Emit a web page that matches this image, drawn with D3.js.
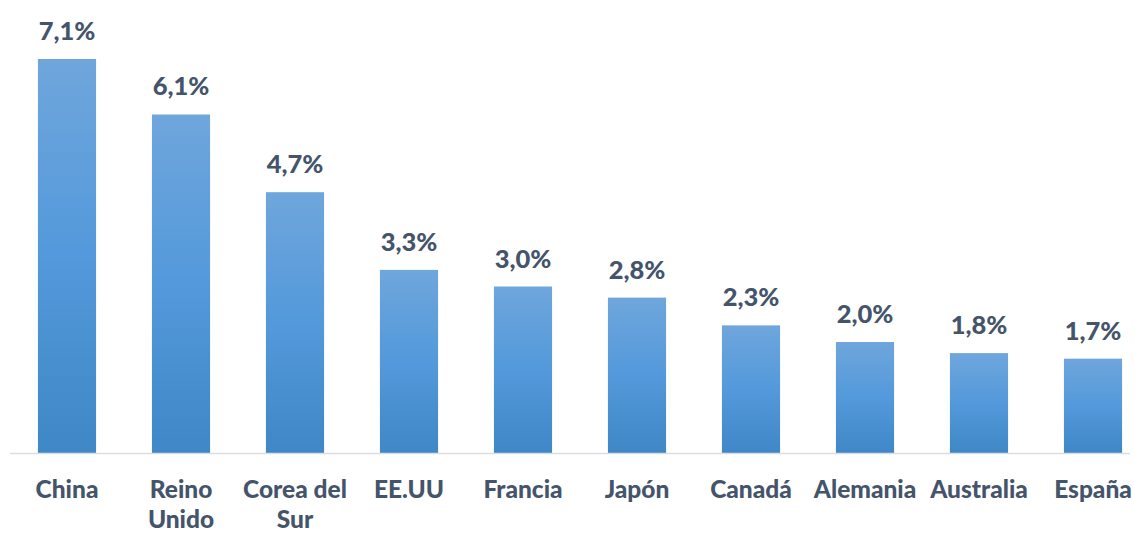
<!DOCTYPE html>
<html><head><meta charset="utf-8">
<script src="https://cdn.jsdelivr.net/npm/d3@7"></script>
<style>body{margin:0;background:#fff}svg{display:block}</style>
</head><body>
<svg id="c" width="1134" height="534"></svg>
<script>
const categories = ["China","Reino Unido","Corea del Sur","EE.UU","Francia","Japón","Canadá","Alemania","Australia","España"];
const values = [7.1,6.1,4.7,3.3,3.0,2.8,2.3,2.0,1.8,1.7];
const labels = ["7,1%","6,1%","4,7%","3,3%","3,0%","2,8%","2,3%","2,0%","1,8%","1,7%"];

const svg = d3.select("#c");
const font = "Lato, 'Open Sans', sans-serif";
const textColor = "#44546a";
const baseY = 453;

const x = d3.scaleBand().domain(categories).range([10, 1150]).paddingInner(0.49).paddingOuter(0.245);
const y = d3.scaleLinear().domain([0, 7.1]).range([baseY, 59]);

const defs = svg.append("defs");
const g = defs.append("linearGradient").attr("id","bg").attr("x1",0).attr("y1",0).attr("x2",0).attr("y2",1);
g.append("stop").attr("offset","0%").attr("stop-color","#6fa6dc");
g.append("stop").attr("offset","50%").attr("stop-color","#5399db");
g.append("stop").attr("offset","100%").attr("stop-color","#3f87c7");

svg.selectAll("rect.bar").data(categories).join("rect").attr("class","bar")
  .attr("x", d => x(d)).attr("width", x.bandwidth())
  .attr("y", (d,i) => y(values[i])).attr("height", (d,i) => baseY - y(values[i]))
  .attr("fill","url(#bg)");

svg.append("line").attr("x1",10).attr("x2",1130).attr("y1",baseY+0.5).attr("y2",baseY+0.5)
  .attr("stroke","#d9dde3").attr("stroke-width",1.5);

svg.selectAll("text.val").data(categories).join("text").attr("class","val")
  .attr("x", d => x(d) + x.bandwidth()/2).attr("y", (d,i) => y(values[i]) - 19)
  .attr("text-anchor","middle").attr("font-family",font).attr("font-weight","900")
  .attr("font-size",25.5).attr("fill",textColor).text((d,i) => labels[i]);

const cat = svg.selectAll("text.cat").data(categories).join("text").attr("class","cat")
  .attr("text-anchor","middle").attr("font-family",font).attr("font-weight","900")
  .attr("font-size",24.5).attr("fill",textColor)
  .attr("x", d => x(d) + x.bandwidth()/2).attr("y", 498);

cat.each(function(d){
  const t = d3.select(this);
  const words = d.split(" ");
  const maxW = 120;
  let lines = [], cur = [];
  const tmp = t.append("tspan");
  words.forEach(w => {
    const test = cur.concat([w]).join(" ");
    tmp.text(test);
    if (tmp.node().getComputedTextLength() > maxW && cur.length) { lines.push(cur.join(" ")); cur = [w]; }
    else cur.push(w);
  });
  lines.push(cur.join(" "));
  tmp.remove();
  const cx = x(d) + x.bandwidth()/2;
  lines.forEach((l,i) => t.append("tspan").attr("x", cx).attr("dy", i ? 30 : 0).text(l));
});
</script>
</body></html>
